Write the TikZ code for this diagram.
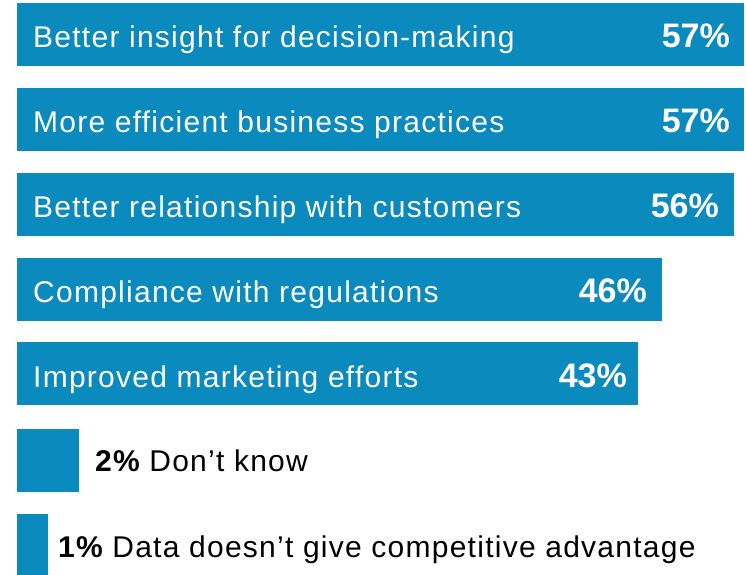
\documentclass[tikz,border=0pt]{standalone}
\usepackage{fontspec}
\setmainfont{Liberation Sans}
\newfontfamily\spacedfont[LetterSpace=4.2]{Liberation Sans}
\usetikzlibrary{positioning}
\definecolor{barblue}{RGB}{11,138,189}
\tikzset{
  bar/.style={fill=barblue, draw=none, anchor=north west, minimum height=63pt, inner sep=0pt},
  item/.style={anchor=base west, text=white, inner sep=0pt, font=\spacedfont\fontsize{30}{36}\selectfont},
  pct/.style={anchor=base east, text=white, inner sep=0pt, font=\fontsize{34}{40}\selectfont\bfseries},
  note/.style={anchor=base west, text=black, inner sep=0pt, font=\spacedfont\fontsize{30}{36}\selectfont}
}
\newcommand{\bignum}[1]{{\fontsize{30}{34}\selectfont\bfseries #1}}
\begin{document}
\begin{tikzpicture}[x=1pt,y=-1pt]
    \useasboundingbox (0,0) rectangle (746,574);
    \clip (0,0) rectangle (746,574);

    \node[bar, minimum width=727pt] (b1) at (17,3) {};
    \node[item] (t1) at (33,47) {Better insight for decision-making};
    \node[pct] (p1) at (730,47) {57\%};

    \node[bar, minimum width=727pt] (b2) at (17,88) {};
    \node[item] (t2) at (33,132) {More efficient business practices};
    \node[pct] (p2) at (730,132) {57\%};

    \node[bar, minimum width=717pt] (b3) at (17,173) {};
    \node[item] (t3) at (33,217) {Better relationship with customers};
    \node[pct] (p3) at (719,217) {56\%};

    \node[bar, minimum width=645pt] (b4) at (17,258) {};
    \node[item] (t4) at (33,302) {Compliance with regulations};
    \node[pct] (p4) at (647,302) {46\%};

    \node[bar, minimum width=621pt] (b5) at (17,342) {};
    \node[item] (t5) at (33,387) {Improved marketing efforts};
    \node[pct] (p5) at (627,387) {43\%};

    \node[bar, minimum width=62pt] (b6) at (17,429) {};
    \node[note] (t6) at (95,471) {\bignum{2\%} Don’t know};

    \node[bar, minimum width=31pt, minimum height=70pt] (b7) at (17,514) {};
    \node[note] (t7) at (58,557) {\bignum{1\%} Data doesn’t give competitive advantage};
  \end{tikzpicture}
\end{document}
